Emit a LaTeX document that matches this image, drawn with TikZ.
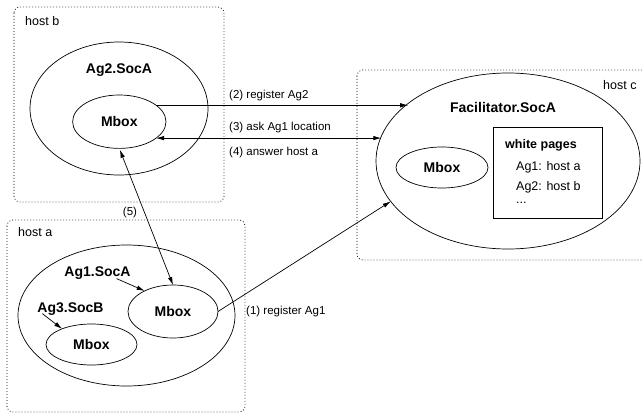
\documentclass[tikz,border=0pt]{standalone}
\usepackage{fontspec}
\setmainfont{Liberation Sans}
\usetikzlibrary{shapes.geometric,arrows.meta,calc}
\tikzset{
  hostbox/.style={draw, line width=0.8pt, dash pattern=on 0.8pt off 2.2pt, rounded corners=6pt},
  ell/.style={draw, ellipse, line width=0.7pt, inner sep=0pt, outer sep=0pt},
  bold/.style={font=\fontsize{14}{16}\selectfont\bfseries, inner sep=0pt},
  lbl/.style={font=\fontsize{11.5}{13}\selectfont, inner sep=0pt, anchor=west},
  hostlbl/.style={font=\fontsize{12.5}{14}\selectfont, inner sep=0pt, anchor=west},
  wp/.style={font=\fontsize{12.5}{14}\selectfont, inner sep=0pt, anchor=west},
  conn/.style={line width=0.7pt, -{Latex[length=8pt,width=4.5pt]}},
  dconn/.style={line width=0.7pt, {Latex[length=8pt,width=4.5pt]}-{Latex[length=8pt,width=4.5pt]}},
}
\begin{document}
\begin{tikzpicture}[x=1pt,y=-1pt]
\useasboundingbox (0,0) rectangle (642,414);
% host boxes
\draw[hostbox] (14,7) rectangle (224,202);
\draw[hostbox] (7,220) rectangle (245,412);
\draw[hostbox] (357,70) rectangle (660,260);
\node[hostlbl] (hb) at (25,21) {host b};
\node[hostlbl] (ha) at (18,232) {host a};
\node[hostlbl] (hc) at (603,85) {host c};
% host b
\node[ell, minimum width=178, minimum height=133] (ag2) at (119,108.5) {};
\node[bold] (ag2lbl) at (119,70) {Ag2.SocA};
\node[ell, bold, minimum width=93.4, minimum height=53.4] (ag2mbox) at (119.3,121.7) {Mbox};
% host a
\node[ell, minimum width=217, minimum height=141] (hosta) at (126.5,315.5) {};
\node[bold] (ag1lbl) at (97.5,273) {Ag1.SocA};
\node[ell, bold, minimum width=90, minimum height=53] (ag1mbox) at (173,311.5) {Mbox};
\node[bold] (ag3lbl) at (70.5,309) {Ag3.SocB};
\node[ell, bold, minimum width=91, minimum height=41] (ag3mbox) at (91.5,344.5) {Mbox};
% host c
\node[ell, minimum width=264, minimum height=176] (fac) at (508,161) {};
\node[bold] (faclbl) at (503,107) {Facilitator.SocA};
\node[ell, bold, minimum width=92, minimum height=41] (facmbox) at (442,167.5) {Mbox};
\node[draw, line width=0.7pt, minimum width=109, minimum height=91, inner sep=0pt] (wpbox) at (547.5,172.5) {};
\node[wp, font=\fontsize{12.5}{14}\selectfont\bfseries] (wpt) at (505,145) {white pages};
\node[wp] (wp1) at (516,167) {Ag1: host a};
\node[wp] (wp2) at (516,187) {Ag2: host b};
\node[wp] (wp3) at (516,203) {...};
% connectors
\draw[conn] (ag2mbox.24) -- (ag2mbox.24 -| fac.150);
\draw[dconn] (ag2mbox.-24) -- (ag2mbox.-24 -| fac.169);
\draw[dconn, shorten <=1.5pt] (ag2mbox.south) -- (ag1mbox.north);
\draw[conn] (ag1mbox.east) -- (fac.199);
\draw[conn] ([xshift=19pt,yshift=1pt]ag1lbl.south) -- (ag1mbox.144);
\draw[conn] ([xshift=5pt,yshift=2pt]ag3lbl.south west) -- (ag3mbox.152);
% labels
\node[lbl] (l2) at (229,96) {(2) register Ag2};
\node[lbl] (l3) at (229,128) {(3) ask Ag1 location};
\node[lbl] (l4) at (229,153) {(4) answer host a};
\node[lbl] (l1) at (246,312) {(1) register Ag1};
\node[lbl, anchor=center] (l5) at (130,213) {(5)};
\end{tikzpicture}
\end{document}
